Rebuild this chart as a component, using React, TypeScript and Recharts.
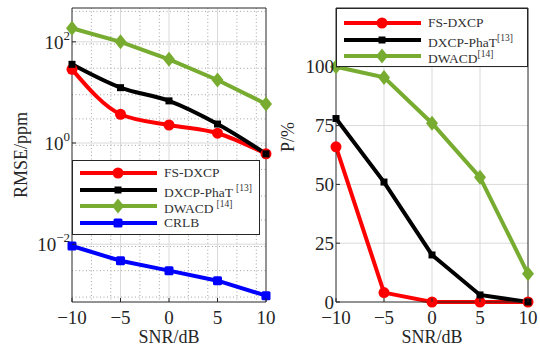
import React from "react";
import { CartesianGrid, Legend, Line, LineChart, ReferenceLine, XAxis, YAxis } from "recharts";

const FONT = '"Liberation Serif", "Times New Roman", serif';
const INK = "#262626";

const snr = [-10, -5, 0, 5, 10];
const snrTicks = [-10, -5, 0, 5, 10];

// left panel: RMSE in ppm (log axis)
const rmseFs = [28.6, 3.7, 2.27, 1.56, 0.61];
const rmsePhat = [35.9, 12.4, 6.8, 2.37, 0.61];
const rmseDwacd = [185, 100, 45, 17.6, 5.9];
const rmseCrlb = [0.0092, 0.0047, 0.003, 0.0019, 0.00096];
const rmseTicks = [0.01, 1, 100];
const rmseDomain: [number, number] = [0.00072, 466];

// right panel: P in %
const pFs = [66, 4, 0, 0, 0];
const pPhat = [78, 51, 20, 3, 0];
const pDwacd = [100, 95.5, 76, 53, 12];
const pTicks = [0, 25, 50, 75, 100];
const pDomain: [number, number] = [0, 125];

const series = [
  { key: "fs", label: "FS-DXCP", ref: "", color: "#ff0000", shape: "circle" },
  { key: "phat", label: "DXCP-PhaT", ref: "[13]", color: "#000000", shape: "square" },
  { key: "dwacd", label: "DWACD", ref: "[14]", color: "#77ac30", shape: "diamond" },
  { key: "crlb", label: "CRLB", ref: "", color: "#0000ff", shape: "bigsquare" },
];

const leftData = snr.map((x, i) => ({
  snr: x,
  fs: rmseFs[i],
  phat: rmsePhat[i],
  dwacd: rmseDwacd[i],
  crlb: rmseCrlb[i],
}));
const rightData = snr.map((x, i) => ({ snr: x, fs: pFs[i], phat: pPhat[i], dwacd: pDwacd[i] }));

const minorRmse = [-4, -3, -2, -1, 0, 1, 2]
  .flatMap((e) => [2, 3, 4, 5, 6, 7, 8, 9].map((m) => m * Math.pow(10, e)))
  .filter((v) => v > rmseDomain[0] && v < rmseDomain[1]);
const minorSnr = Array.from({ length: 21 }, (_, i) => i - 10).filter((v) => v % 5 !== 0);

function Marker({ cx, cy, shape, color }: any) {
  if (cx == null || cy == null) return null;
  if (shape === "circle") return <circle cx={cx} cy={cy} r={5.5} fill={color} />;
  if (shape === "square") return <rect x={cx - 3.5} y={cy - 3.5} width={7} height={7} fill={color} />;
  if (shape === "bigsquare") return <rect x={cx - 4.5} y={cy - 4.5} width={9} height={9} rx={1.5} fill={color} />;
  return (
    <polygon
      points={`${cx},${cy - 7.5} ${cx + 6},${cy} ${cx},${cy + 7.5} ${cx - 6},${cy}`}
      fill={color}
    />
  );
}

const fmt = (v: number) => (v < 0 ? `\u2212${Math.abs(v)}` : `${v}`);

function XTick({ x, y, payload }: any) {
  return (
    <g>
      <line x1={x} x2={x} y1={y} y2={y - 4} stroke={INK} />
      <text x={x} y={y + 22} textAnchor="middle" fontSize={19} fill={INK} fontFamily={FONT}>
        {fmt(payload.value)}
      </text>
    </g>
  );
}

function LogTick({ x, y, payload }: any) {
  const exp = Math.round(Math.log10(payload.value));
  return (
    <g>
      <line x1={x} x2={x + 4} y1={y} y2={y} stroke={INK} />
      <text x={x - 2} y={y + 7} textAnchor="end" fontSize={19} fill={INK} fontFamily={FONT}>
        10
        <tspan dy={-9} fontSize={13}>
          {fmt(exp)}
        </tspan>
      </text>
    </g>
  );
}

function LinTick({ x, y, payload }: any) {
  return (
    <g>
      <line x1={x} x2={x + 4} y1={y} y2={y} stroke={INK} />
      <text x={x - 2} y={y + 6.5} textAnchor="end" fontSize={19} fill={INK} fontFamily={FONT}>
        {payload.value}
      </text>
    </g>
  );
}

function LegendBox({ items, width, height, padTop, space }: any) {
  return (
    <div
      style={{
        width,
        height,
        boxSizing: "border-box",
        border: `1px solid ${INK}`,
        background: "#fff",
        paddingTop: padTop,
        fontFamily: FONT,
        fontWeight: 400,
        fontSize: 13.5,
        lineHeight: "16px",
        color: "#333",
      }}
    >
      {items.map((s: any) => (
        <div key={s.key} style={{ display: "flex", alignItems: "center", height: 16.5 }}>
          <svg width={84} height={16} style={{ display: "block" }}>
            <line x1={7} x2={84} y1={8} y2={8} stroke={s.color} strokeWidth={4} />
            <Marker cx={45} cy={8} shape={s.shape} color={s.color} />
          </svg>
          <span style={{ marginLeft: 7, whiteSpace: "nowrap" }}>
            {s.label}
            {s.ref && <sup style={{ fontSize: 9.5, marginLeft: space ? 3 : 0 }}>{s.ref}</sup>}
          </span>
        </div>
      ))}
    </div>
  );
}

function axisLabel(text: string, x: number, y: number, rotate = false) {
  return {
    content: () => (
      <text
        x={x}
        y={y}
        textAnchor="middle"
        fontSize={18}
        fill={INK}
        fontFamily={FONT}
        transform={rotate ? `rotate(-90 ${x} ${y})` : undefined}
      >
        {text}
      </text>
    ),
  };
}

function lineFor(s: any, curved: boolean) {
  return (
    <Line
      key={s.key}
      dataKey={s.key}
      type={curved ? "monotone" : "linear"}
      stroke={s.color}
      strokeWidth={4}
      isAnimationActive={false}
      dot={(p: any) => <Marker key={`${s.key}-${p.index}`} cx={p.cx} cy={p.cy} shape={s.shape} color={s.color} />}
      activeDot={false}
    />
  );
}

export default function App() {
  return (
    <div style={{ position: "absolute", left: 0, top: 0, width: 540, height: 351, background: "#fff" }}>
      <div style={{ position: "absolute", left: 0, top: 0 }}>
        <LineChart width={280} height={351} data={leftData} margin={{ top: 8, right: 14, bottom: 0, left: 0 }}>
          <CartesianGrid
            horizontalValues={minorRmse}
            verticalValues={minorSnr}
            stroke="#a6a6a6"
            strokeDasharray="1 2.5"
          />
          <CartesianGrid horizontalValues={rmseTicks} verticalValues={[-5, 0, 5]} stroke="#d9d9d9" />
          <XAxis
            dataKey="snr"
            type="number"
            domain={[-10, 10]}
            ticks={snrTicks}
            height={49}
            tickSize={0}
            tickMargin={0}
            axisLine={{ stroke: INK }}
            tick={<XTick />}
            label={axisLabel("SNR/dB", 169, 343)}
          />
          <YAxis
            type="number"
            scale="log"
            domain={rmseDomain}
            allowDataOverflow
            ticks={rmseTicks}
            width={72}
            tickSize={0}
            tickMargin={0}
            axisLine={{ stroke: INK }}
            tick={<LogTick />}
            label={axisLabel("RMSE/ppm", 27, 155, true)}
          />
          <ReferenceLine y={rmseDomain[1]} stroke={INK} />
          <ReferenceLine x={10} stroke={INK} />
          {lineFor(series[0], true)}
          {lineFor(series[1], true)}
          {lineFor(series[2], false)}
          {lineFor(series[3], false)}
          <Legend
            layout="vertical"
            verticalAlign="middle"
            align="center"
            wrapperStyle={{ left: 72, top: 160, width: 188 }}
            content={() => <LegendBox items={series} width={188} height={75} padTop={4} space />}
          />
        </LineChart>
      </div>
      <div style={{ position: "absolute", left: 270, top: 0 }}>
        <LineChart width={270} height={351} data={rightData} margin={{ top: 8, right: 12, bottom: 0, left: 0 }}>
          <CartesianGrid horizontalValues={[25, 50, 75, 100]} verticalValues={[-5, 0, 5]} stroke="#d9d9d9" />
          <XAxis
            dataKey="snr"
            type="number"
            domain={[-10, 10]}
            ticks={snrTicks}
            height={49}
            tickSize={0}
            tickMargin={0}
            axisLine={{ stroke: INK }}
            tick={<XTick />}
            label={axisLabel("SNR/dB", 162, 343)}
          />
          <YAxis
            type="number"
            domain={pDomain}
            ticks={pTicks}
            width={66}
            tickSize={0}
            tickMargin={0}
            axisLine={{ stroke: INK }}
            tick={<LinTick />}
            label={axisLabel("P/%", 24, 137, true)}
          />
          <ReferenceLine y={pDomain[1]} stroke={INK} />
          <ReferenceLine x={10} stroke={INK} />
          {lineFor(series[0], false)}
          {lineFor(series[1], false)}
          {lineFor(series[2], false)}
          <Legend
            layout="vertical"
            verticalAlign="middle"
            align="center"
            wrapperStyle={{ left: 66, top: 8, width: 192 }}
            content={() => <LegendBox items={series.slice(0, 3)} width={192} height={59} padTop={6} space={false} />}
          />
        </LineChart>
      </div>
    </div>
  );
}
